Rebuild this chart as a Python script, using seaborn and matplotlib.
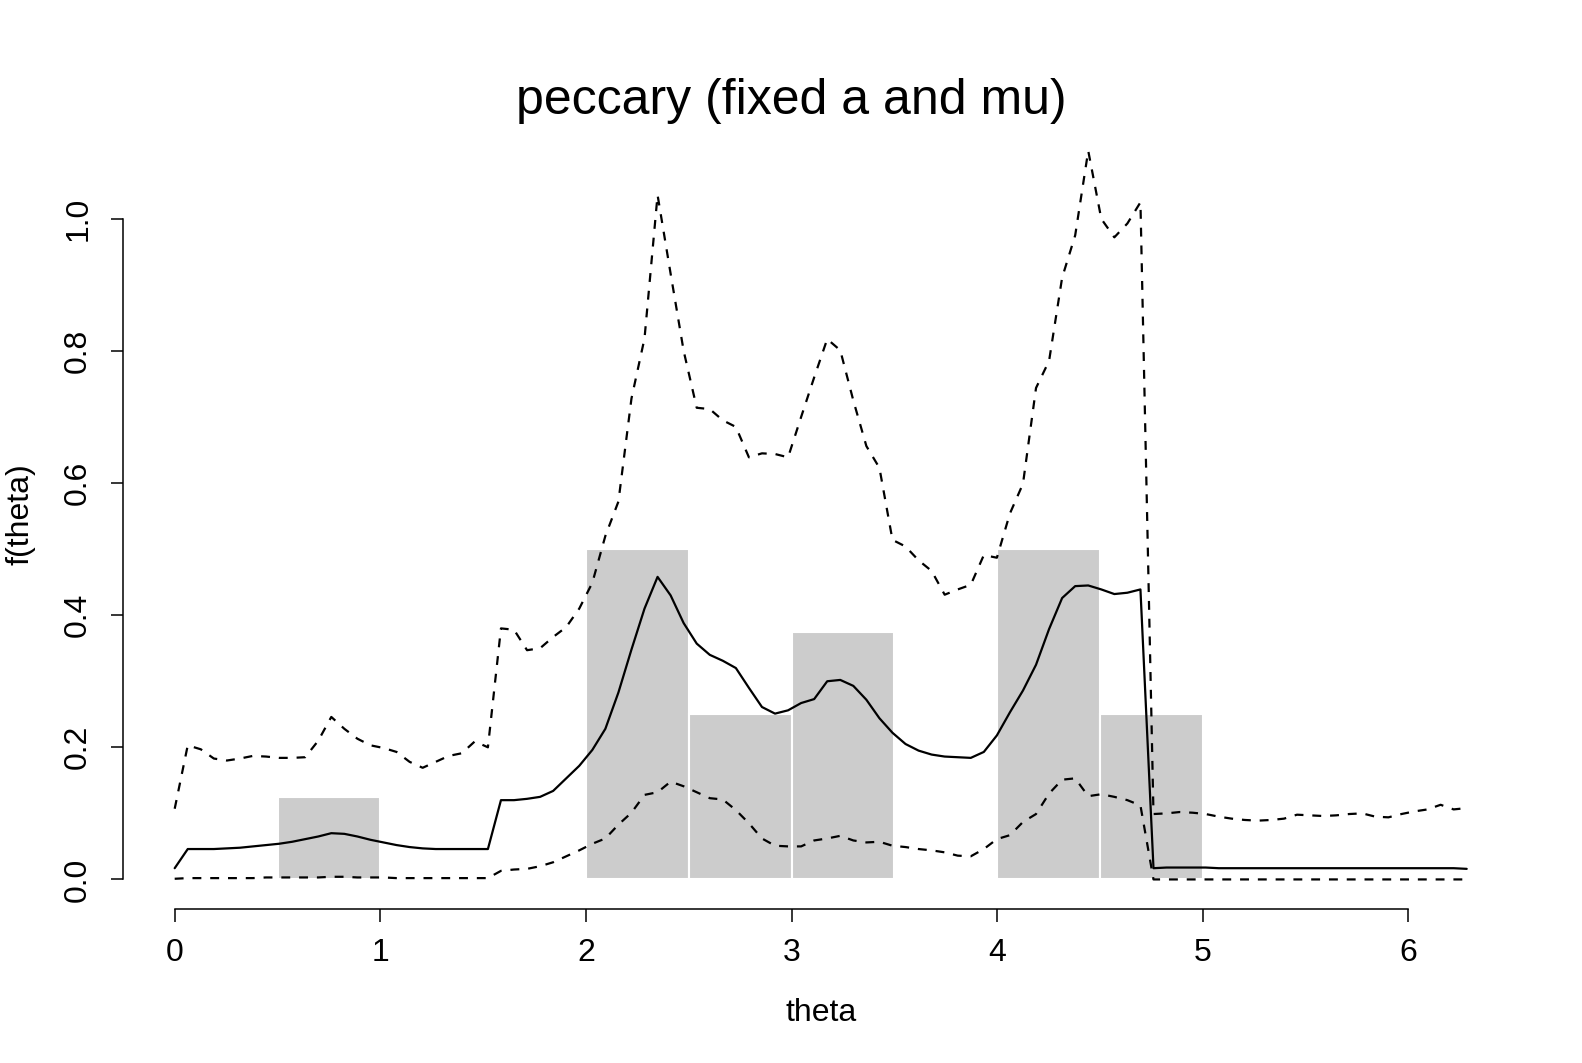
import numpy as np
import pandas as pd
import seaborn as sns
import matplotlib
matplotlib.use("Agg")
import matplotlib.pyplot as plt

# grid de theta (0 .. 2*pi, 100 puntos)
theta = np.linspace(0, 2 * np.pi, 100)

# densidad estimada (linea solida)
f_mid = [0.017, 0.046, 0.046, 0.046, 0.047, 0.048, 0.050, 0.052, 0.054, 0.057,
         0.061, 0.065, 0.070, 0.069, 0.065, 0.060, 0.056, 0.052, 0.049, 0.047,
         0.046, 0.046, 0.046, 0.046, 0.046, 0.120, 0.120, 0.122, 0.125, 0.134,
         0.153, 0.172, 0.196, 0.228, 0.283, 0.348, 0.410, 0.458, 0.430, 0.388,
         0.357, 0.340, 0.331, 0.320, 0.290, 0.261, 0.251, 0.256, 0.267, 0.273,
         0.300, 0.302, 0.293, 0.272, 0.244, 0.222, 0.205, 0.195, 0.189, 0.186,
         0.185, 0.184, 0.193, 0.218, 0.253, 0.286, 0.325, 0.379, 0.426, 0.444,
         0.445, 0.439, 0.432, 0.434, 0.439, 0.017, 0.018, 0.018, 0.018, 0.018,
         0.017, 0.017, 0.017, 0.017, 0.017, 0.017, 0.017, 0.017, 0.017, 0.017,
         0.017, 0.017, 0.017, 0.017, 0.017, 0.017, 0.017, 0.017, 0.017, 0.016]

# limite superior (discontinua)
f_upper = [0.107, 0.203, 0.197, 0.183, 0.180, 0.183, 0.187, 0.186, 0.184, 0.184,
           0.185, 0.210, 0.246, 0.228, 0.213, 0.203, 0.199, 0.193, 0.178, 0.169,
           0.178, 0.187, 0.191, 0.209, 0.200, 0.380, 0.378, 0.347, 0.350, 0.367,
           0.382, 0.410, 0.449, 0.520, 0.572, 0.728, 0.819, 1.036, 0.917, 0.800,
           0.714, 0.712, 0.695, 0.685, 0.639, 0.645, 0.644, 0.639, 0.700, 0.760,
           0.818, 0.801, 0.725, 0.656, 0.623, 0.514, 0.504, 0.483, 0.467, 0.431,
           0.439, 0.446, 0.491, 0.487, 0.554, 0.599, 0.744, 0.785, 0.911, 0.975,
           1.103, 1.000, 0.972, 0.993, 1.025, 0.099, 0.100, 0.102, 0.101, 0.099,
           0.095, 0.092, 0.090, 0.089, 0.090, 0.092, 0.098, 0.097, 0.096, 0.097,
           0.099, 0.100, 0.095, 0.094, 0.099, 0.103, 0.106, 0.113, 0.106, 0.108]

# limite inferior (discontinua)
f_lower = [0.001, 0.002, 0.002, 0.002, 0.002, 0.002, 0.002, 0.003, 0.003, 0.003,
           0.003, 0.003, 0.004, 0.004, 0.003, 0.003, 0.003, 0.002, 0.002, 0.002,
           0.002, 0.002, 0.002, 0.002, 0.002, 0.013, 0.015, 0.016, 0.020, 0.026,
           0.035, 0.044, 0.054, 0.062, 0.083, 0.101, 0.128, 0.132, 0.148, 0.141,
           0.132, 0.123, 0.121, 0.105, 0.085, 0.062, 0.051, 0.050, 0.050, 0.059,
           0.062, 0.066, 0.059, 0.056, 0.057, 0.051, 0.049, 0.046, 0.044, 0.041,
           0.036, 0.035, 0.046, 0.061, 0.067, 0.087, 0.099, 0.130, 0.151, 0.153,
           0.126, 0.129, 0.125, 0.120, 0.112, 0.000, 0.000, 0.000, 0.000, 0.000,
           0.000, 0.000, 0.000, 0.000, 0.000, 0.000, 0.000, 0.000, 0.000, 0.000,
           0.000, 0.000, 0.000, 0.000, 0.000, 0.000, 0.000, 0.000, 0.000, 0.000]

# histograma de observaciones (conteos por clase de ancho 0.5)
bin_edges = [0.5, 1.0, 1.5, 2.0, 2.5, 3.0, 3.5, 4.0, 4.5, 5.0]
bin_counts = [1, 0, 0, 4, 2, 3, 0, 4, 2]
bin_mids = [0.75, 1.25, 1.75, 2.25, 2.75, 3.25, 3.75, 4.25, 4.75]

df = pd.DataFrame({"theta": theta, "mid": f_mid, "upper": f_upper, "lower": f_lower})

sns.set_style("white")
plt.rcParams["font.family"] = ["Liberation Sans", "DejaVu Sans"]
plt.rcParams["text.color"] = "black"
plt.rcParams["axes.labelcolor"] = "black"
plt.rcParams["xtick.color"] = "black"
plt.rcParams["ytick.color"] = "black"

fig = plt.figure(figsize=(15.82, 10.63), dpi=100)
ax = fig.add_axes([0.0778, 0.1451, 0.9605 - 0.0778, 0.8871 - 0.1451])

sns.histplot(x=bin_mids, weights=bin_counts, bins=bin_edges, stat="density",
             color="#CCCCCC", alpha=1, edgecolor="white", linewidth=1.5, ax=ax)

sns.lineplot(data=df, x="theta", y="mid", color="black", lw=1.6, sort=False, ax=ax)
sns.lineplot(data=df, x="theta", y="upper", color="black", lw=1.6, sort=False,
             linestyle=(0, (4, 4)), ax=ax)
sns.lineplot(data=df, x="theta", y="lower", color="black", lw=1.6, sort=False,
             linestyle=(0, (4, 4)), ax=ax)

ax.set_xlim(-0.251, 6.54)
ax.set_ylim(-0.0444, 1.1496)

# ejes estilo R
for s in ["top", "right"]:
    ax.spines[s].set_visible(False)
ax.spines["left"].set_bounds(0, 1)
ax.spines["bottom"].set_bounds(0, 6)
for s in ["left", "bottom"]:
    ax.spines[s].set_linewidth(1.1)
    ax.spines[s].set_color("black")

ax.set_xticks([0, 1, 2, 3, 4, 5, 6])
ax.set_yticks([0.0, 0.2, 0.4, 0.6, 0.8, 1.0])
ax.set_yticklabels(["0.0", "0.2", "0.4", "0.6", "0.8", "1.0"], rotation=90, va="center")
ax.tick_params(axis="both", direction="out", length=9, width=1.1, color="black",
               labelsize=23, bottom=True, left=True)
ax.tick_params(axis="x", pad=12)
ax.tick_params(axis="y", pad=12.5)

ax.set_xlabel("theta", fontsize=23, labelpad=22)
ax.set_ylabel("f(theta)", fontsize=23, labelpad=20)
# titulo centrado en la figura, como en R
fig.text(0.5, 1 - 114 / 1063, "peccary (fixed a and mu)", fontsize=36,
         ha="center", va="baseline")

fig.savefig("out.png", dpi=100)
